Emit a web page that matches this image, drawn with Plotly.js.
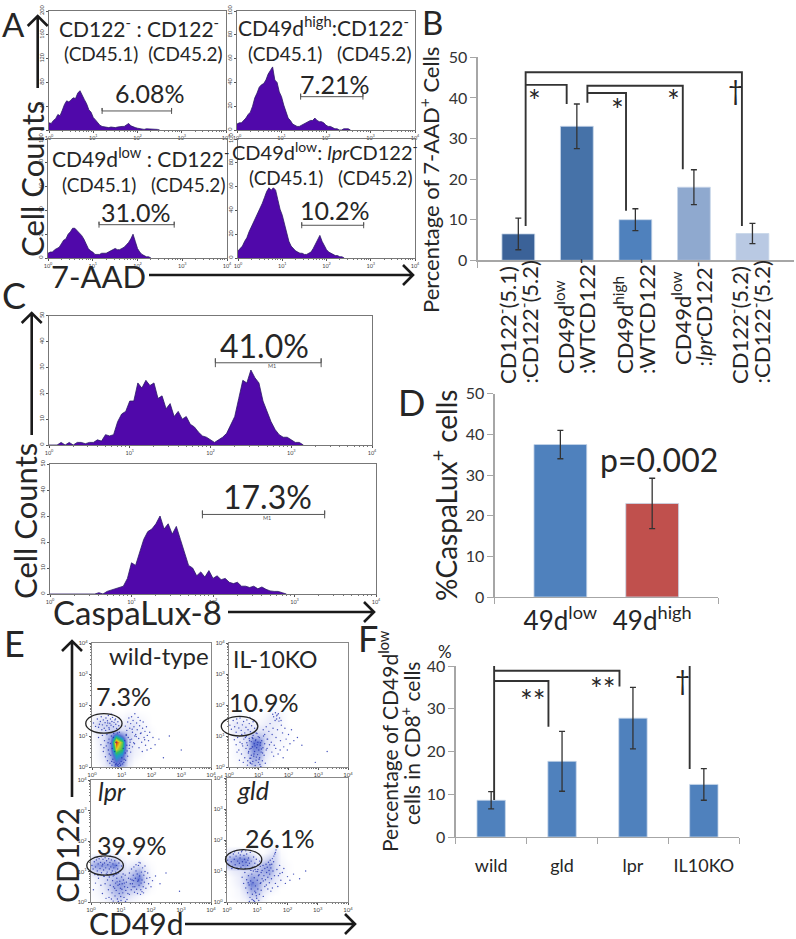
<!DOCTYPE html>
<html>
<head>
<meta charset="utf-8">
<script src="https://cdn.plot.ly/plotly-3.0.1.min.js"></script>
<style>html,body{margin:0;padding:0;background:#fff}</style>
</head>
<body>
<div id="fig" style="width:796px;height:939px"></div>
<script>
// histogram channel positions, in decades of fluorescence
const histBins = [0,.05,.1,.15,.2,.25,.3,.35,.4,.45,.5,.55,.6,.65,.7,.75,.8,.85,.9,.95,1,1.05,1.1,1.15,1.2,1.25,1.3,1.35,1.4,1.45,1.5,1.55,1.6,1.65,1.7,1.75,1.8,1.85,1.9,1.95,2,2.05,2.1,2.15,2.2,2.25,2.3,2.35,2.4,2.45,2.5,2.55,2.6,2.65,2.7,2.75,2.8,2.85,2.9,2.95,3,3.05,3.1,3.15,3.2];
const minorDecades = [.3,.48,.6,.7,.78,.85,.9,.95,1.3,1.48,1.6,1.7,1.78,1.85,1.9,1.95,2.3,2.48,2.6,2.7,2.78,2.85,2.9,2.95,3.3,3.48,3.6,3.7,3.78,3.85,3.9,3.95];
const decadeTicks = [0,1,2,3,4];
const decadeLabels = ['10<sup>0</sup>','10<sup>1</sup>','10<sup>2</sup>','10<sup>3</sup>','10<sup>4</sup>'];

// panel A, 7-AAD histograms
const a1Counts = [12,11,16,19,26,24,33,43,49,47,51,54,53,62,66,57,51,44,34,30,21,17,12,8,6,5,4,4,5,4,4,5,6,6,6,8,11,7,5,4,3,2,1,1,2,2,1,2,1,1,0];
const a2Counts = [5,6,6,8,10,13,15,20,27,31,36,38,39,42,47,50,53,42,40,32,28,21,15,10,8,5,4,3,3,4,5,6,7,8,8,10,8,7,7,6,4,3,3,2,1,1,0,0,1,1,1,0];
const a3Counts = [4,5,5,7,8,9,12,15,16,20,22,25,25,23,21,19,16,12,8,6,5,3,3,3,4,4,4,5,6,7,8,7,7,8,9,11,13,16,20,14,8,5,3,2,1,1,0];
const a4Counts = [6,8,10,14,17,22,26,29,33,37,41,46,51,56,59,57,59,57,49,41,36,29,20,14,10,8,6,5,4,4,3,3,4,5,8,12,16,19,14,10,7,5,4,3,2,2,1,1,0];
const aPercents = ['6.08%','7.21%','31.0%','10.2%'];

// panel C, CaspaLux-8 histograms
const c1Counts = [0,0,0,1,0,1,0,1,1,.5,1,1,2,1.5,4,3.5,4,9,12,13,17,17,24,22,25,23,24,18,19,14,16,11,13,10,11,8,7,5,3.5,3,2,1,2,3,4.5,8,11,18,25,24,29,26,24,17,13,9,6,4,3,3,2,1,1,0];
const c2Counts = [0,0,0,0,0,0,0,0,0,0,0,0,.5,0,1,1.5,2,2.5,3,6,12,11,16,21,24,25,27,30,25,27,23,26,21,16,11,10,7,8.5,6.5,9,6,7,5.5,6,4.5,4,4.5,3,3,2.5,3,2,2.7,1.8,1.2,1,1,.5,0];

// panel B, the two label lines of each bar are set separately
const bLine1 = ['CD122<sup>-</sup>(5.1)','CD49d<sup>low</sup>','CD49d<sup>high</sup>','CD49d<sup>low</sup>','CD122<sup>-</sup>(5.2)'];
const bLine2 = [':CD122<sup>-</sup>(5.2)',':WTCD122<sup>-</sup>',':WTCD122<sup>-</sup>',':<i>lpr</i>CD122<sup>-</sup>',':CD122<sup>-</sup>(5.2)'];
const bValues = [6.5,33,10,18,6.6];
const bErrors = [3.9,5.5,2.7,4.3,2.5];
const bColors = ['#3b6298','#4672a8','#4f81bd','#8fa9cf','#b9c9e3'];

// panel D
const dGroups = ['49d<sup>low</sup>','49d<sup>high</sup>'];
const dValues = [37.5,23];
const dErrors = [3.5,6.2];
const dColors = ['#4f81bd','#c0504d'];

// panel F
const fGroups = ['wild','gld','lpr','IL10KO'];
const fValues = [8.6,17.7,27.8,12.3];
const fErrors = [2,7,7.2,3.7];

// panel E, dot plot events (log10 CD49d, log10 CD122)
const wtX = [.05,.12,.18,.22,.28,.31,.35,.38,.41,.44,.47,.5,.52,.55,.57,.6,.62,.64,.67,.69,.72,.74,.77,.8,.83,.87,.9,.33,.46,.58,.66,.71,.25,.53,.79,.22,.3,.35,.38,.42,.45,.48,.5,.52,.55,.57,.6,.62,.63,.65,.67,.68,.7,.72,.74,.76,.78,.8,.82,.85,.88,.9,.93,.95,.98,1,1.03,1.05,1.08,1.1,1.12,1.15,1.17,1.2,1.22,1.25,1.28,1.3,1.33,1.36,1.4,1.44,.4,.58,.66,.79,.86,.97,1.07,1.18,.54,.73,.92,1.13,1.26,1.12,1.17,1.2,1.24,1.27,1.3,1.33,1.36,1.38,1.41,1.44,1.47,1.5,1.52,1.55,1.57,1.6,1.62,1.65,1.67,1.7,1.72,1.75,1.78,1.8,1.83,1.86,1.9,1.94,1.98,2.05,1.15,1.28,1.35,1.43,1.49,1.58,1.63,1.69,1.77,1.85,2.12,2.25,2.4,2.6,3];
const wtY = [1.42,1.31,1.55,1.28,1.47,1.62,1.36,1.52,1.25,1.43,1.58,1.33,1.49,1.66,1.27,1.41,1.55,1.35,1.47,1.6,1.3,1.44,1.52,1.38,1.24,1.46,1.33,1.2,1.18,1.22,1.7,1.15,1.38,1.42,1.55,.95,.72,1.02,.5,.85,.33,.68,1.05,.2,.55,.9,.12,.76,.38,1,.06,.6,.25,.95,.15,.5,.03,.8,.1,.04,.08,.02,.12,.05,.18,.3,.1,.6,.25,.85,.45,1.02,.7,.35,.95,.6,.8,.48,.9,.65,.78,1,.62,.42,.18,.09,1.1,.07,.15,.52,.78,1.08,1.12,.22,.7,1.32,1.18,1.45,1.58,1.25,1.4,1.62,1.12,1.5,1.3,1.72,1.05,1.42,1.2,1.6,.92,1.33,1.5,1.1,.8,1.25,1.45,.95,1.15,.7,1.3,1.02,.85,1.12,.6,.95,1.05,.88,1.22,.75,.98,.62,1.08,.5,.88,.55,.72,.9,.3,1,.55];
const koX = [.03,.08,.14,.19,.24,.28,.33,.37,.41,.45,.49,.53,.57,.6,.64,.68,.72,.76,.81,.86,.91,.26,.43,.58,.7,.18,.24,.29,.33,.37,.42,.46,.5,.53,.57,.6,.63,.66,.69,.72,.75,.78,.8,.35,.48,.55,.62,.7,.27,.44,.62,.65,.68,.7,.73,.75,.77,.79,.81,.83,.85,.86,.88,.9,.91,.93,.94,.96,.97,.99,1,1.02,1.03,1.05,1.07,1.08,1.1,1.12,1.14,1.16,1.18,1.2,1.22,1.25,1.28,.74,.8,.87,.92,.98,1.04,1.09,.84,.95,1.01,.78,.89,1.13,.71,1.06,1.15,1.2,1.25,1.3,1.34,1.38,1.42,1.45,1.48,1.52,1.55,1.58,1.6,1.63,1.66,1.7,1.73,1.76,1.8,1.84,1.88,1.92,1.96,2,2.05,2.1,2.18,2.3,1.28,1.36,1.44,1.5,1.57,1.65,1.72,1.82,1.5,1.6,1.68,1.56,1.62,1.75,1.47,2.45,2.9,3.3];
const koY = [1.35,1.22,1.5,1.3,1.12,1.42,1.26,1.58,1.18,1.36,1.47,1.1,1.28,1.52,1.2,1.4,1.14,1.33,1.46,1.25,1.1,1.55,1.05,.98,1.6,.88,.72,.95,.55,.8,.42,.68,.9,.3,.6,.78,.2,.5,.85,.12,.38,.65,.92,.22,.15,.95,.06,.28,.48,.75,.7,.45,.92,.58,.28,.82,.1,.65,1.02,.35,.75,.5,.05,.88,.22,.62,1.08,.4,.8,.15,.55,.95,.3,.7,.02,.48,.85,.2,.62,1,.38,.75,.12,.55,.9,.6,.18,.68,.32,.98,.08,.58,.42,.72,.25,.95,.85,.45,.15,.78,1.2,1.05,1.3,.9,1.15,1.4,.8,1.05,1.25,.7,1.5,.95,1.65,1.2,1.72,1.58,.85,1.35,1.1,.65,1.25,.9,.55,1.05,.75,1.2,.85,.95,.6,.72,.48,.35,.6,.42,.55,.3,1.62,1.55,1.48,1.75,1.68,1.5,1.7,.7,.15,.5];
const lprX = [.03,.07,.11,.15,.18,.21,.24,.27,.3,.32,.35,.37,.4,.42,.45,.47,.49,.52,.54,.56,.59,.61,.63,.66,.68,.71,.73,.76,.79,.82,.85,.89,.93,.97,1.02,.13,.23,.34,.44,.55,.64,.74,.86,.2,.39,.42,.47,.51,.55,.58,.61,.64,.67,.7,.72,.75,.77,.8,.82,.84,.86,.88,.9,.92,.94,.96,.98,1,1.02,1.04,1.06,1.08,1.1,1.12,1.14,1.16,1.18,1.2,1.22,1.25,1.28,1.31,1.34,1.37,1.4,.6,.68,.74,.83,.91,.99,1.07,1.15,1.23,.79,.95,1.03,1.11,.87,.25,.33,.38,.15,.08,.5,1.28,1.32,1.35,1.38,1.41,1.43,1.46,1.48,1.5,1.52,1.54,1.56,1.58,1.6,1.62,1.64,1.66,1.68,1.7,1.72,1.74,1.76,1.78,1.8,1.83,1.86,1.89,1.92,1.96,2,2.05,1.45,1.55,1.65,1.75,1.5,1.6,1.7,1.42,1.8,2.15,2.3,2.5,2.95,1.58,1.67];
const lprY = [1.2,1.08,1.32,1.15,1.38,1.02,1.25,1.42,1.1,1.3,.96,1.18,1.4,1.05,1.28,1.45,1.12,1.35,.98,1.22,1.42,1.08,1.3,1.15,1.38,1.02,1.25,1.12,1.35,.98,1.2,1.08,1.28,1.02,1.18,.9,.88,1.48,.84,.9,1.5,.85,.92,1.46,1.24,.85,.6,.92,.72,.4,.82,.55,.95,.3,.7,.5,.88,.2,.62,.38,.78,.1,.55,.95,.28,.68,.45,.05,.82,.6,.3,.72,.15,.5,.88,.38,.65,.08,.48,.78,.25,.6,.4,.72,.5,.15,.1,.03,.92,.02,.18,.92,.02,.28,.45,.58,.42,.62,.66,.78,.55,.28,.62,.4,.12,.95,.75,1.08,.6,.88,1.15,.5,.78,1.02,.42,.92,.68,1.2,.55,.85,1.28,.4,.98,.72,1.12,.5,.88,.65,1,.45,.78,.95,.6,.8,.5,.7,.32,.28,.25,.3,1.22,1.3,.34,.7,1.18,.85,.6,.95,.35,.72,.62];
const gldX = [.02,.06,.1,.14,.18,.21,.24,.27,.3,.33,.35,.38,.41,.43,.46,.48,.51,.53,.56,.58,.6,.63,.65,.68,.71,.74,.77,.8,.84,.88,.92,.97,1.02,1.08,.12,.25,.37,.5,.62,.75,.16,.44,.69,.5,.55,.59,.62,.65,.68,.71,.73,.76,.78,.8,.82,.84,.86,.88,.9,.92,.94,.96,.98,1,1.02,1.04,1.07,1.1,1.13,1.16,1.2,1.25,.74,.83,.91,.97,1.05,.79,.87,.93,1.01,.7,.95,1.02,1.06,1.1,1.13,1.16,1.19,1.22,1.25,1.27,1.29,1.31,1.33,1.35,1.37,1.39,1.41,1.43,1.45,1.47,1.5,1.52,1.55,1.57,1.6,1.62,1.58,1.54,1.48,1.42,1.65,1.7,1.74,1.78,1.83,1.88,1.93,2,2.08,2.2,2.4,1.2,1.3,1.4,1.5,1.6,1.68,1.75,1.35,1.45,2.6,1.12];
const gldY = [1.35,1.22,1.45,1.3,1.15,1.55,1.38,1.2,1.48,1.1,1.32,1.58,1.25,1.42,1.12,1.62,1.3,1.18,1.5,1.38,1.08,1.28,1.55,1.18,1.42,1.25,1.6,1.32,1.12,1.45,1.25,1.38,1.2,1.32,1.58,1.62,1.06,1.66,1.65,1.08,1.08,1.52,1.35,.8,.6,.95,.45,.72,.3,.85,.55,.15,.68,.42,.9,.25,.62,.05,.78,.35,.52,.98,.12,.7,.42,.85,.25,.6,.38,.75,.18,.5,.02,.08,.02,.2,.05,1.02,1,1.05,.98,.62,.3,1.05,.88,1.15,.95,1.02,1.18,.85,1.08,.72,1.22,.95,1.12,.8,1.28,1.02,.9,1.35,1.1,.75,1.4,1,1.48,.85,1.6,1.68,1.55,1.3,1.22,1.2,1.05,.85,1.18,.7,.95,1.08,.6,.82,.7,.9,.75,.68,.55,.62,.45,.6,.5,.92,.42,.35,1,.62];

// panel E, event density behind the dots: rows are log10 CD122, columns log10 CD49d
const densityX = [0,.2,.4,.6,.8,1,1.2,1.4,1.6,1.8,2,2.2,2.4];
const densityY = [0,.2,.4,.6,.8,1,1.2,1.4,1.6,1.8,2];
const wtDensity = [
    [0,0,.5,1,3,2.5,.5,0,0,0,0,0,0],
    [0,.2,.6,2,4.5,3.5,.8,.2,0,0,0,0,0],
    [0,.3,.8,2.5,6,5,1,.4,.2,0,0,0,0],
    [0,.3,1,3,8.5,7,1.2,.5,.3,.1,0,0,0],
    [0,.4,1,3,10,7.5,1.3,.6,.3,.2,.1,0,0],
    [.1,.5,1,2.5,6,4,1.5,.7,.5,.3,.1,0,0],
    [.3,.8,1,1.3,1.3,1,1,.8,.5,.3,.1,0,0],
    [.5,1.2,1.3,1.3,1,.5,.7,.8,.4,.2,0,0,0],
    [.2,.5,.7,.5,.3,.2,.4,.4,.2,.1,0,0,0],
    [0,.1,.1,.1,0,0,.1,.1,0,0,0,0,0],
    [0,0,0,0,0,0,0,0,0,0,0,0,0]];
const koDensity = [
    [0,0,.2,.5,1.5,1.3,.3,0,0,0,0,0,0],
    [0,.1,.3,.8,2.2,1.8,.5,.1,0,0,0,0,0],
    [0,.2,.4,1,2.8,2.6,.8,.3,.1,0,0,0,0],
    [0,.2,.5,1.2,3.5,3.5,1,.5,.2,.1,0,0,0],
    [0,.2,.5,1.2,4,4,1.2,.6,.3,.2,.1,0,0],
    [.1,.4,.6,1,2,1.8,1.2,.7,.4,.3,.1,0,0],
    [.2,.7,.8,.8,.8,.8,.8,.6,.4,.2,.1,0,0],
    [.3,.7,.7,.6,.4,.3,.5,.6,.5,.2,0,0,0],
    [.1,.3,.3,.2,.1,.1,.3,.6,.7,.2,0,0,0],
    [0,0,0,0,0,0,.1,.2,.2,.1,0,0,0],
    [0,0,0,0,0,0,0,0,0,0,0,0,0]];
const lprDensity = [
    [0,.1,.2,.4,.8,.8,.4,.2,.1,0,0,0,0],
    [.1,.2,.4,.8,1.6,1.8,1,.6,.3,.1,0,0,0],
    [.1,.3,.6,1.3,2.2,2.5,1.8,1.5,1.3,.5,.1,0,0],
    [.1,.3,.8,1.6,2.6,3,2.2,2.6,3,1,.2,0,0],
    [.2,.5,.9,1.5,2,2.2,1.6,2.6,4,1.2,.3,0,0],
    [.8,1.4,1.4,1.5,1.5,1.2,1,1.8,2.6,.9,.2,0,0],
    [2,3,3,3,4,1.5,.5,.7,1,.4,.1,0,0],
    [.8,1.5,1.5,1.6,1.4,.4,.2,.2,.3,.1,0,0,0],
    [0,.1,.1,.2,.1,0,0,0,.1,0,0,0,0],
    [0,0,0,0,0,0,0,0,0,0,0,0,0],
    [0,0,0,0,0,0,0,0,0,0,0,0,0]];
const gldDensity = [
    [0,0,.1,.2,.6,.6,.2,0,0,0,0,0,0],
    [0,.1,.2,.6,1.5,1.5,.4,.1,0,0,0,0,0],
    [0,.1,.3,1,2.6,2.3,.9,.4,.2,0,0,0,0],
    [0,.2,.5,1.3,3.8,3,1.2,.8,.5,.2,0,0,0],
    [0,.3,.6,1.4,2.8,2.4,1.8,1.8,.8,.4,.1,0,0],
    [.3,.6,.8,1,1.3,1.8,2.5,2.8,1.2,.5,.1,0,0],
    [1.8,2.6,2.8,3.2,2,1.2,2.2,2.6,1.2,.3,.1,0,0],
    [2,3,3.5,3.5,2,.8,.8,1.4,1.2,.2,0,0,0],
    [.6,1,1,1,.7,.2,.1,.5,1.1,.1,0,0,0],
    [0,0,0,0,0,0,0,.1,.2,0,0,0,0],
    [0,0,0,0,0,0,0,0,0,0,0,0,0]];

// figure size, everything below is placed in these pixels
const W = 796, H = 939;
const PX = x => x / W;
const PY = y => 1 - y / H;
const FONT = 'Lato, "Open Sans", sans-serif';
const INK = '#262626';
const AXIS = '#a6a6a6';

const traces = [], shapes = [], notes = [];
const layout = {
    width: W, height: H,
    margin: {l: 0, r: 0, t: 0, b: 0},
    paper_bgcolor: '#fff', plot_bgcolor: '#fff',
    showlegend: false,
    font: {family: FONT, color: INK},
    shapes: shapes, annotations: notes
};

function addAxes(n, box, xOpts, yOpts) {
    layout['xaxis' + n] = Object.assign({
        domain: [PX(box[0]), PX(box[1])], anchor: 'y' + n,
        zeroline: false, showgrid: false, fixedrange: true
    }, xOpts);
    layout['yaxis' + n] = Object.assign({
        domain: [PY(box[3]), PY(box[2])], anchor: 'x' + n,
        zeroline: false, showgrid: false, fixedrange: true
    }, yOpts);
}

function note(text, x, y, size, opts) {
    notes.push(Object.assign({
        text: text, x: PX(x), y: PY(y), xref: 'paper', yref: 'paper',
        showarrow: false, font: {family: FONT, size: size, color: INK},
        xanchor: 'center', yanchor: 'middle'
    }, opts));
}

function arrow(x0, y0, x1, y1) {
    const ux = Math.sign(x1 - x0), uy = Math.sign(y1 - y0), s = 10;
    const p = (x, y) => PX(x) + ' ' + PY(y);
    const head = ux ? 'M' + p(x1 - ux * s, y1 - s) + ' L' + p(x1, y1) + ' L' + p(x1 - ux * s, y1 + s)
                    : 'M' + p(x1 - s, y1 - uy * s) + ' L' + p(x1, y1) + ' L' + p(x1 + s, y1 - uy * s);
    shapes.push({type: 'path', xref: 'paper', yref: 'paper',
        path: 'M' + p(x0, y0) + ' L' + p(x1, y1) + ' ' + head,
        line: {color: '#1a1a1a', width: 2.6}});
}

// gate marker over a histogram
function gate(n, x0, x1, y, tick) {
    traces.push({x: [x0, x0, x0, x1, x1, x1], y: [y - tick, y + tick, y, y, y + tick, y - tick],
        xaxis: 'x' + n, yaxis: 'y' + n, mode: 'lines', hoverinfo: 'skip',
        line: {color: '#555', width: 1}});
}

function histogram(n, box, counts, yMax, yStep) {
    const yTicks = [];
    for (let v = 0; v <= yMax; v += yStep) yTicks.push(v);
    addAxes(n, box, {
        range: [0, 4], tickmode: 'array', tickvals: decadeTicks, ticktext: decadeLabels,
        ticks: 'outside', ticklen: 2, tickcolor: '#555', tickfont: {size: 5.5, color: '#444'},
        minor: {tickmode: 'array', tickvals: minorDecades, ticks: 'outside', ticklen: 1, tickcolor: '#777'},
        showline: true, mirror: true, linecolor: '#777', linewidth: 1
    }, {
        range: [0, yMax], tickmode: 'array', tickvals: yTicks, ticks: 'outside', ticklen: 2,
        tickcolor: '#555', tickangle: -90, tickfont: {size: 5.5, color: '#444'},
        showline: true, mirror: true, linecolor: '#777', linewidth: 1
    });
    traces.push({x: histBins, y: counts, xaxis: 'x' + n, yaxis: 'y' + n, mode: 'lines',
        line: {color: '#2b1a66', width: .8}, fill: 'tozeroy', fillcolor: '#5008aa', hoverinfo: 'skip'});
}

function bars(n, box, groups, values, errors, colors, xRange, yMax, yStep, barWidth, edges, tickSize, standoff) {
    const yTicks = [];
    for (let v = 0; v <= yMax; v += yStep) yTicks.push(v);
    const pos = groups.map((g, i) => i);
    addAxes(n, box, {
        range: xRange, tickmode: 'array', tickvals: pos, ticktext: groups,
        ticks: '', tickfont: {size: tickSize, color: INK}, ticklabelstandoff: standoff,
        minor: {tickmode: 'array', tickvals: edges, ticks: 'outside', ticklen: 6, tickcolor: AXIS},
        showline: true, linecolor: AXIS, linewidth: 1.3
    }, {
        range: [0, yMax], tickmode: 'array', tickvals: yTicks, ticks: 'outside', ticklen: 6,
        tickcolor: AXIS, tickfont: {size: 16, color: '#333'},
        showline: true, linecolor: AXIS, linewidth: 1.3
    });
    traces.push({type: 'bar', x: pos, y: values, width: barWidth, xaxis: 'x' + n, yaxis: 'y' + n,
        marker: {color: colors, line: {color: '#c6d5e8', width: .8}},
        error_y: {type: 'data', array: errors, visible: true, color: '#333', thickness: 1.3, width: 3},
        hoverinfo: 'skip'});
}

// significance bracket, drawn through the bar chart axes and allowed above the top tick
function bracket(n, xs, ys) {
    traces.push({x: xs, y: ys, xaxis: 'x' + n, yaxis: 'y' + n, mode: 'lines', cliponaxis: false,
        line: {color: '#333', width: 1.9}, hoverinfo: 'skip'});
}

function dotPlot(n, box, xs, ys, density) {
    const frame = {
        range: [0, 4], tickmode: 'array', tickvals: decadeTicks, ticktext: decadeLabels,
        ticks: 'outside', ticklen: 2, tickcolor: '#555', tickfont: {size: 6, color: '#444'},
        minor: {tickmode: 'array', tickvals: minorDecades, ticks: 'outside', ticklen: 1, tickcolor: '#777'},
        showline: true, mirror: true, linecolor: '#888', linewidth: 1
    };
    addAxes(n, box, frame, frame);
    traces.push({type: 'heatmap', x: densityX, y: densityY, z: density, zmin: 0, zmax: 10, zsmooth: 'best',
        xaxis: 'x' + n, yaxis: 'y' + n, showscale: false, hoverinfo: 'skip',
        colorscale: [[0, '#ffffff'], [.08, '#e3e6f8'], [.2, '#b4bdea'], [.32, '#8796de'], [.42, '#5a6ed2'], [.55, '#1f9bc8'], [.7, '#2fbf5f'], [.85, '#e3d21f'], [1, '#e2300f']]});
    traces.push({x: xs, y: ys, xaxis: 'x' + n, yaxis: 'y' + n, mode: 'markers', hoverinfo: 'skip',
        marker: {size: 1.4, color: '#2233b0', opacity: .85}});
}

// domain fractions keep the gates whole where they cross the frame
function gateEllipse(n, x0, x1, y0, y1) {
    shapes.push({type: 'circle', xref: 'x' + n + ' domain', yref: 'y' + n + ' domain',
        x0: x0 / 4, x1: x1 / 4, y0: y0 / 4, y1: y1 / 4, line: {color: '#222', width: 1.3}});
}

// panel A
histogram(1, [49, 226, 11, 130], a1Counts, 200, 40);
histogram(2, [237, 415, 11, 130], a2Counts, 100, 20);
histogram(3, [48, 227, 139, 258], a3Counts, 100, 20);
histogram(4, [238, 415, 139, 258], a4Counts, 100, 20);
gate(1, 1.2, 2.77, 32, 5);
gate(2, 1.43, 2.83, 28, 2.5);
gate(3, 1.14, 2.82, 28, 2.5);
gate(4, 1.44, 2.84, 27.5, 2.5);
note('CD122<sup>-</sup> : CD122<sup>-</sup>', 139, 27, 21);
note('(CD45.1)  (CD45.2)', 143, 54, 19);
note('CD49d<sup>high</sup>:CD122<sup>-</sup>', 323, 26, 21);
note('(CD45.1)   (CD45.2)', 329, 53, 19);
note('CD49d<sup>low</sup> : CD122<sup>-</sup>', 140, 157, 21);
note('(CD45.1)   (CD45.2)', 143, 185, 19);
note('CD49d<sup>low</sup>: <i>lpr</i>CD122<sup>-</sup>', 325, 151, 20);
note('(CD45.1)   (CD45.2)', 330, 177, 19);
note(aPercents[0], 149, 93, 25);
note(aPercents[1], 334, 84, 25);
note(aPercents[2], 135, 212, 25);
note(aPercents[3], 334, 210, 25);
note('A', 13, 24, 33);
note('Cell Counts', 32, 179, 31, {textangle: -90});
note('7-AAD', 98, 276, 31);
arrow(37.7, 88, 37.7, 16);
arrow(149, 275, 413, 275);

// panel B
bars(5, [477.7, 794, 57.3, 260.3], bLine1, bValues, bErrors, bColors, [-.694, 4.71], 50, 10, .56, [-.694], 21, 0);
layout.xaxis5.showticklabels = false;
const bLine1Left = [506, 564, 623, 681, 738];
const bLine2Left = [528, 585, 645, 702, 760];
const bLine1Foot = [386, 376, 376, 367, 386];
const bLine2Foot = [386, 376, 376, 369, 386];
bLine1.forEach((t, i) => note(t, bLine1Left[i], bLine1Foot[i], 22, {textangle: -90, yanchor: 'bottom'}));
bLine2.forEach((t, i) => note(t, bLine2Left[i], bLine2Foot[i], 22, {textangle: -90, yanchor: 'bottom'}));
bracket(5, [.125, .125, 3.82, 3.82], [8.46, 46.3, 46.3, 8.46]);
bracket(5, [.125, .826, .826], [43.2, 43.2, 38.5]);
bracket(5, [1.18, 1.18, 2.81, 2.81], [38.8, 43, 43, 22.4]);
bracket(5, [1.18, 1.84, 1.84], [41.2, 41.2, 12.2]);
note('B', 432, 22, 33);
note('Percentage of 7-AAD<sup>+</sup> Cells', 429, 180, 22, {textangle: -90});
note('*', 534, 100, 30);
note('*', 617, 109, 30);
note('*', 673, 100, 30);
note('†', 735, 90, 26);

// panel C
histogram(6, [49, 372, 315.7, 445], c1Counts, 50, 10);
histogram(7, [50, 376, 464, 594], c2Counts, 50, 10);
gate(6, 2.06, 3.37, 31.8, 1.7);
gate(7, 1.87, 3.37, 30.6, 1.5);
note('M1', 272, 366, 5.5, {font: {family: FONT, size: 5.5, color: '#555'}});
note('M1', 267, 518, 5.5, {font: {family: FONT, size: 5.5, color: '#555'}});
note('41.0%', 264, 345, 32);
note('17.3%', 267, 497, 32);
note('C', 14, 295, 36);
note('Cell Counts', 25, 521, 31, {textangle: -90});
note('CaspaLux-8', 137, 612, 33);
arrow(31.7, 435, 31.7, 313);
arrow(228, 612, 374, 612);

// panel D
bars(8, [494.7, 718.3, 393.7, 597], dGroups, dValues, dErrors, dColors, [-.715, 1.72], 50, 10, .575, [-.715, 1.72], 26, 0);
note('D', 411, 402, 36);
note('%CaspaLux<sup>+</sup> cells', 445, 495, 28, {textangle: -90});
note('p=0.002', 659, 459, 32);

// panel E
dotPlot(9, [92, 211, 643, 767], wtX, wtY, wtDensity);
dotPlot(10, [229, 348, 643, 767], koX, koY, koDensity);
dotPlot(11, [91, 211, 780, 902], lprX, lprY, lprDensity);
dotPlot(12, [227, 348, 778, 902], gldX, gldY, gldDensity);
gateEllipse(9, -.21, 1.01, 1.09, 1.72);
gateEllipse(10, -.26, .97, 1, 1.63);
gateEllipse(11, -.14, 1.08, .88, 1.51);
gateEllipse(12, -.05, 1.15, 1.06, 1.69);
note('wild-type', 159, 655, 24);
note('IL-10KO', 275, 659, 23);
note('<i>lpr</i>', 112, 791, 25);
note('<i>gld</i>', 253, 790, 25);
note('7.3%', 123, 696, 25);
note('10.9%', 263, 702, 25);
note('39.9%', 131, 845, 25);
note('26.1%', 279, 838, 25);
note('E', 14, 643, 36);
note('CD122', 67, 856, 30, {textangle: -90});
note('CD49d', 136, 922, 30, {height: 33});
arrow(72, 797, 72, 641);
arrow(185, 924, 355, 924);

// panel F
bars(13, [455.7, 739.3, 666, 837], fGroups, fValues, fErrors, ['#4f81bd', '#4f81bd', '#4f81bd', '#4f81bd'], [-.5, 3.5], 40, 10, .4, [-.5, .5, 1.5, 2.5, 3.5], 18, 12);
bracket(13, [.042, .042, 2.8, 2.8], [8.65, 42.6, 42.6, 15.9]);
bracket(13, [.042, 1.81, 1.81], [38.9, 38.9, 35.2]);
bracket(13, [.042, .808, .808], [36.5, 36.5, 25.8]);
note('F', 368, 638, 36);
note('%', 445, 651, 17);
note('Percentage of CD49d<sup>low</sup>', 388, 741, 21, {textangle: -90});
note('cells in CD8<sup>+</sup> cells', 410, 743, 21, {textangle: -90});
note('**', 533, 700, 30);
note('**', 603, 688, 30);
note('†', 682, 680, 26);

Plotly.newPlot('fig', traces, layout, {displayModeBar: false, staticPlot: true});
</script>
</body>
</html>
